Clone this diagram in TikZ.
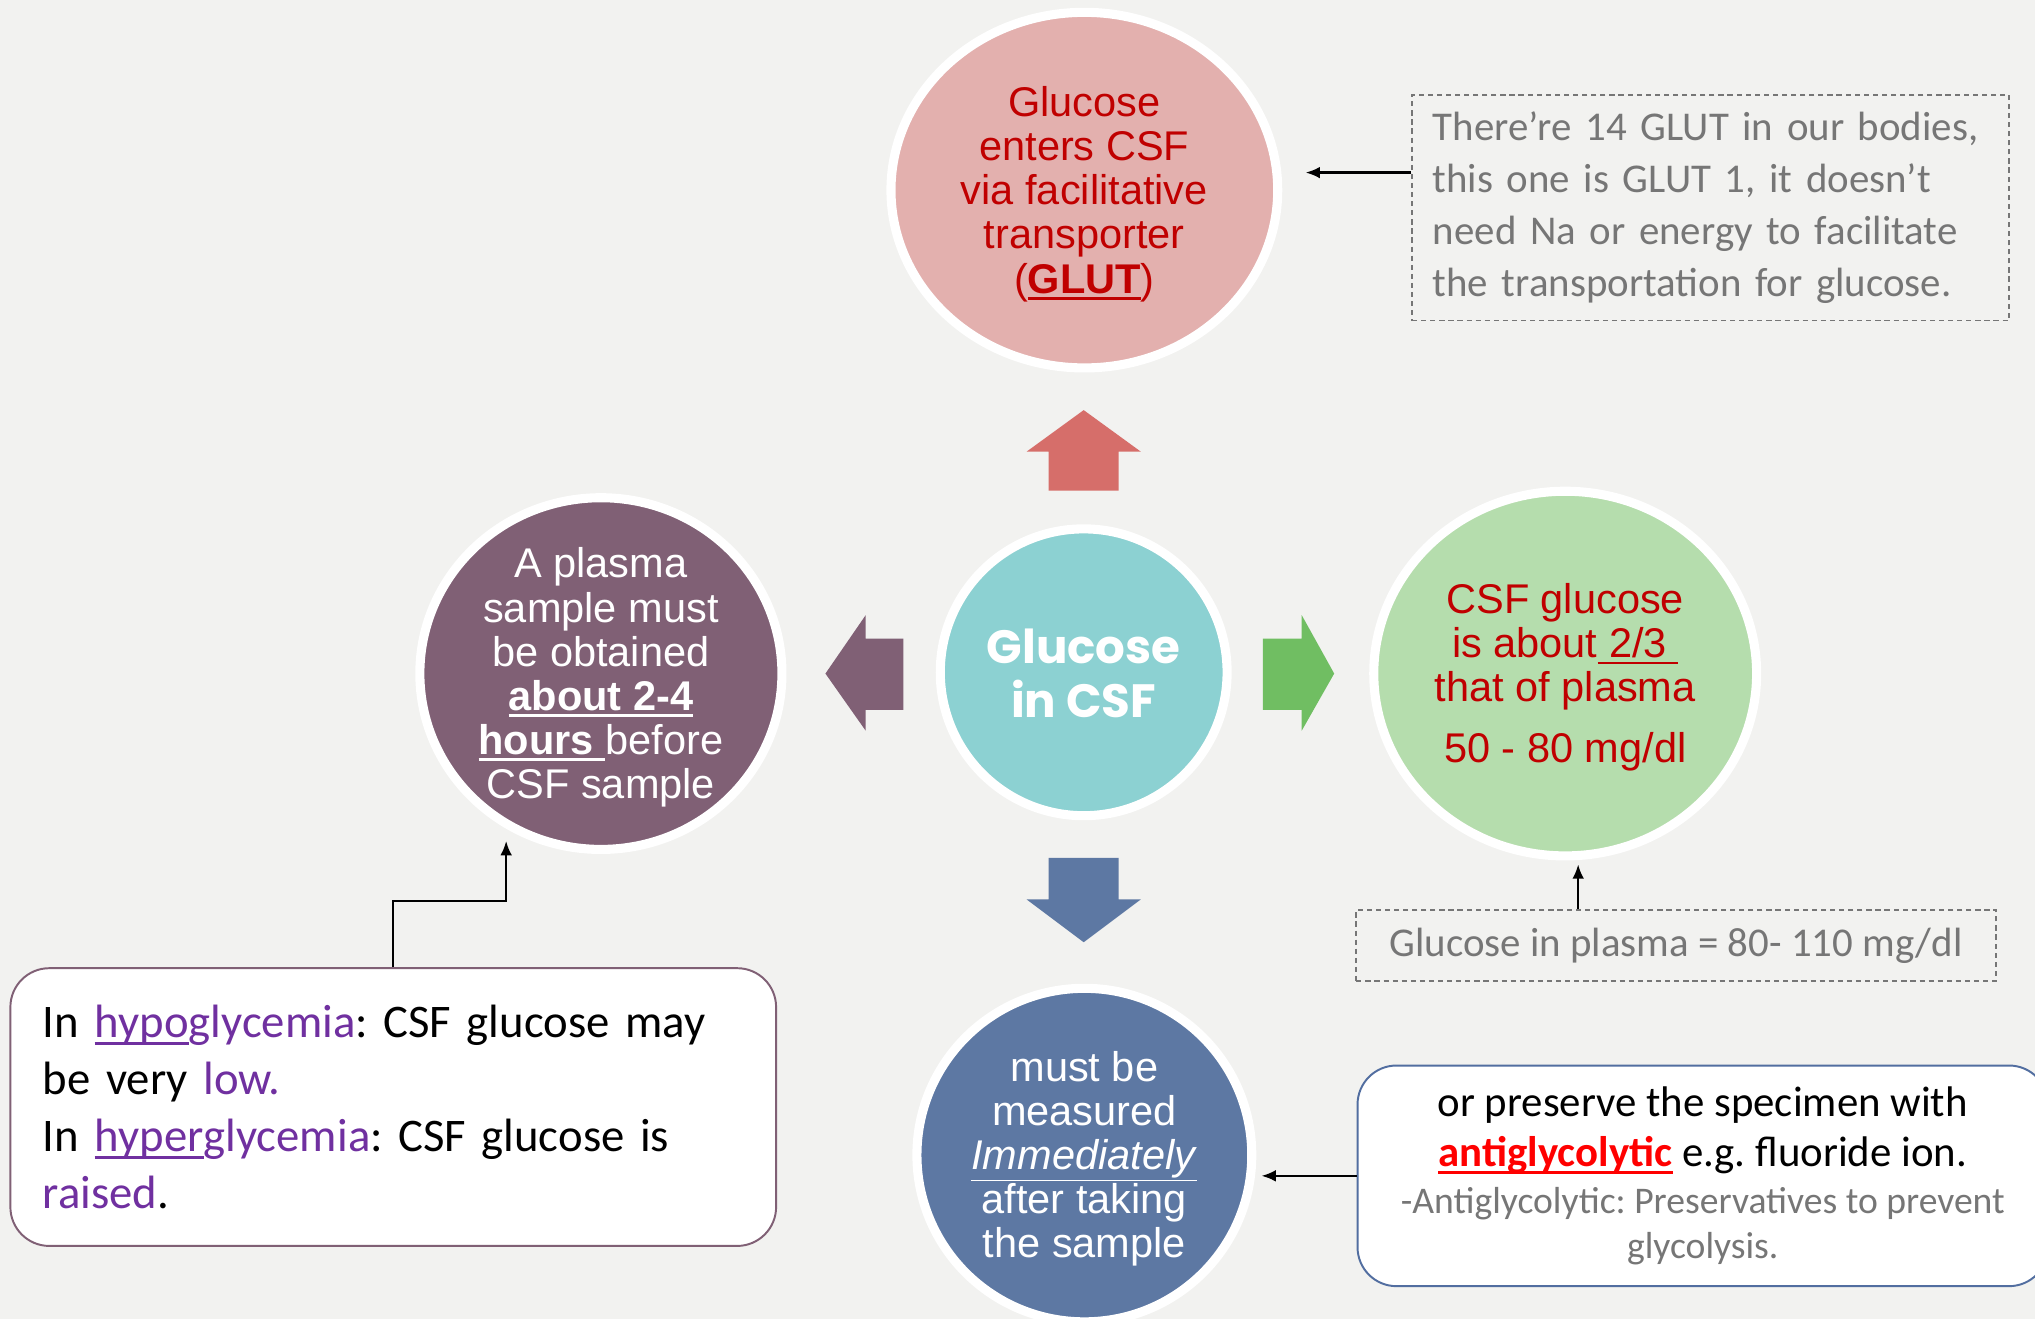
\documentclass[tikz,border=0pt]{standalone}
\usepackage{fontspec}
\setmainfont{Liberation Sans}
\newfontfamily\calibri{Carlito}
\newfontfamily\gothic{Poppins}
\usetikzlibrary{shapes.geometric,arrows.meta}
\frenchspacing

\definecolor{bgcol}{RGB}{242,242,240}
\definecolor{pinkfill}{RGB}{227,176,174}
\definecolor{redarrow}{RGB}{214,110,106}
\definecolor{tealfill}{RGB}{140,209,210}
\definecolor{plumfill}{RGB}{128,96,117}
\definecolor{greenarrow}{RGB}{112,190,98}
\definecolor{greenfill}{RGB}{181,221,173}
\definecolor{bluefill}{RGB}{93,120,163}
\definecolor{boxblue}{RGB}{82,110,160}
\definecolor{darkred}{RGB}{192,0,0}
\definecolor{notegray}{RGB}{118,118,118}
\definecolor{txtpurple}{RGB}{112,48,160}

% thick underline
\newsavebox\ulbox
\newcommand\uln[1]{\sbox\ulbox{#1}\leavevmode
  \rlap{\rule[-0.16em]{\wd\ulbox}{2.2pt}}\usebox\ulbox}
\newcommand\smallgray[1]{{\color{notegray}\fontsize{29}{35}\selectfont #1}}

\begin{document}
\begin{tikzpicture}[x=1pt, y=-1pt,
  blob/.style = {ellipse, draw=white, line width=7pt, inner sep=0pt},
  blobtext/.style = {align=center, inner sep=0pt, yshift=-3pt,
    font=\fontsize{32}{34}\selectfont},
  note/.style = {draw=notegray, dash pattern=on 4pt off 3pt, line width=1.2pt,
    text=notegray, font=\calibri\fontsize{31.5}{40}\selectfont},
  card/.style = {fill=white, rounded corners=30pt, line width=1.5pt,
    font=\calibri\fontsize{33}{39}\selectfont},
  link/.style = {-{Latex[length=11pt,width=9pt]}, line width=1.8pt}]

  \fill[bgcol] (0,0) rectangle (1568,1016);
  \path[use as bounding box, clip] (0,0) rectangle (1568,1016);

  % block arrows round the centre
  \fill[redarrow] (835,316) -- (879,348) -- (862,348) -- (862,378)
    -- (808,378) -- (808,348) -- (791,348) -- cycle;
  \fill[bluefill] (808,661) -- (862,661) -- (862,693) -- (879,693)
    -- (835,726) -- (791,693) -- (808,693) -- cycle;
  \fill[plumfill] (636,519) -- (667,474) -- (667,492) -- (696,492)
    -- (696,547) -- (667,547) -- (667,563) -- cycle;
  \fill[greenarrow] (973,492) -- (1003,492) -- (1003,474) -- (1028,519)
    -- (1003,563) -- (1003,547) -- (973,547) -- cycle;

  % circles
  \node[blob, fill=tealfill, minimum width=221pt, minimum height=221pt]
    (centre) at (835,518) {};
  \node[blobtext, text=white, yshift=2pt,
    font=\gothic\bfseries\fontsize{36}{42}\selectfont]
    (centretext) at (centre) {Glucose\\in CSF};

  \node[blob, fill=pinkfill, minimum width=298pt, minimum height=274pt]
    (glutc) at (835.5,146.5) {};
  \node[blobtext, text=darkred] (gluttext) at (glutc)
    {Glucose\\enters CSF\\via facilitative\\transporter\\(\uln{\textbf{GLUT}})};

  \node[blob, fill=plumfill, minimum width=279pt, minimum height=271pt]
    (plasma) at (463,519) {};
  \node[blobtext, text=white] (plasmatext) at (plasma)
    {A plasma\\sample must\\be obtained\\\uln{\textbf{about 2-4}}\\
     \uln{\textbf{hours}\ }before\\CSF sample};

  \node[blob, fill=greenfill, minimum width=295pt, minimum height=281pt]
    (ratio) at (1206,519) {};
  \node[blobtext, text=darkred] (ratiotext) at (ratio)
    {CSF glucose\\is about\uln{\ 2/3\ }\\that of plasma\\[13pt]50 - 80 mg/dl};

  \node[blob, fill=bluefill, minimum width=258pt, minimum height=257pt]
    (measure) at (835.5,890) {};
  \node[blobtext, text=white] (measuretext) at (measure)
    {must be\\measured\\\underline{\textit{Immediately}}\\after taking\\the sample};

  % notes and cards
  \node[note, align=left, text width=428pt, inner xsep=16pt, inner ysep=0pt,
    minimum width=460pt, minimum height=174pt] (glutnote) at (1318,160)
    {There’re 14 GLUT in our bodies,\\this one is GLUT 1, it doesn’t\\
     need Na or energy to facilitate\\the transportation for glucose.};

  \node[note, minimum width=493pt, minimum height=55pt] (plasmanote)
    at (1291.5,728.5) {Glucose in plasma = 80- 110 mg/dl};

  \node[card, draw=plumfill, align=left, text width=540pt, inner xsep=25pt,
    minimum width=590pt, minimum height=214pt,
    font=\calibri\fontsize{36}{44}\selectfont] (hypo) at (303,853)
    {In \textcolor{txtpurple}{\uln{hypo}glycemia}: CSF glucose may\\
     be very \textcolor{txtpurple}{low.}\\
     In \textcolor{txtpurple}{\uln{hyper}glycemia}: CSF glucose is\\
     \textcolor{txtpurple}{raised}.};

  \node[card, draw=boxblue, align=center, minimum width=532pt,
    minimum height=170pt] (preserve) at (1312,906)
    {or preserve the specimen with\\
     \textcolor{red}{\uln{\textbf{antiglycolytic}}} e.g. fluoride ion.\\[-3pt]
     \smallgray{-Antiglycolytic: Preservatives to prevent}\\[-4pt]
     \smallgray{glycolysis.}};

  % connectors
  \coordinate (glutend) at ([yshift=27pt]glutnote.west);
  \draw[link, shorten >=18pt] (glutend) -- (glutend -| glutc.east);

  \coordinate (ratioend) at ([xshift=10pt]ratio.south);
  \draw[link, shorten >=3pt] (ratioend |- plasmanote.north) -- (ratioend);

  \draw[link, shorten >=4pt] (preserve.west) -- (preserve.west -| measure.east);

  \coordinate (plasmaend) at ([xshift=-73pt, yshift=10pt]plasma.south);
  \draw[link] (hypo.north) -- ++(0,-51) -| (plasmaend);
\end{tikzpicture}
\end{document}
